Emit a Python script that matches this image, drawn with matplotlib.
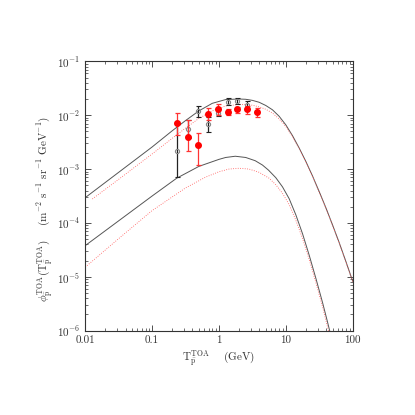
import matplotlib
matplotlib.use("Agg")
import matplotlib.pyplot as plt
import numpy as np
from matplotlib.ticker import LogLocator, FixedLocator, NullFormatter

plt.rcParams['font.family'] = 'serif'
plt.rcParams['font.serif'] = ['cmr10', 'DejaVu Serif']
plt.rcParams['mathtext.fontset'] = 'cm'
plt.rcParams['axes.formatter.use_mathtext'] = True

# ---- model curves as log10 values ----
upper_black_log_x = [-2.0, -1.5, -1.0, -0.7, -0.5, -0.3, -0.1, 0.1, 0.3, 0.4, 0.5, 0.6, 0.7, 0.8, 0.9, 1.0, 1.1, 1.2, 1.3, 1.4, 1.5, 1.6, 1.7, 1.8, 1.9, 2.0]
upper_black_log_y = [-3.53, -3.06, -2.59, -2.29, -2.10, -1.92, -1.78, -1.71, -1.70, -1.705, -1.725, -1.76, -1.82, -1.90, -2.02, -2.18, -2.38, -2.61, -2.86, -3.13, -3.42, -3.72, -4.04, -4.37, -4.72, -5.08]

upper_red_log_x = [-1.894, -1.5, -1.0, -0.7, -0.5, -0.3, -0.1, 0.1, 0.3, 0.4, 0.5, 0.6, 0.7, 0.8, 0.9, 1.0, 1.1, 1.2, 1.3, 1.4, 1.5, 1.6, 1.7, 1.8, 1.9, 2.0]
upper_red_log_y = [-3.555, -3.19, -2.72, -2.43, -2.24, -2.06, -1.92, -1.83, -1.80, -1.80, -1.815, -1.845, -1.89, -1.96, -2.07, -2.21, -2.40, -2.62, -2.87, -3.14, -3.43, -3.73, -4.05, -4.38, -4.73, -5.09]

lower_black_log_x = [-2.0, -1.5, -1.0, -0.633, -0.3, 0.0, 0.1, 0.244, 0.4, 0.542, 0.65, 0.741, 0.85, 0.95, 1.05, 1.15, 1.25, 1.35, 1.45, 1.55, 1.62, 1.67]
lower_black_log_y = [-4.42, -3.96, -3.50, -3.17, -2.95, -2.82, -2.785, -2.762, -2.785, -2.845, -2.925, -3.02, -3.16, -3.33, -3.55, -3.85, -4.20, -4.60, -5.03, -5.48, -5.82, -6.07]

lower_red_log_x = [-2.0, -1.5, -1.0, -0.5, -0.2, 0.0, 0.15, 0.3, 0.45, 0.6, 0.75, 0.85, 0.95, 1.05, 1.15, 1.25, 1.35, 1.45, 1.55, 1.62, 1.65]
lower_red_log_y = [-4.82, -4.29, -3.77, -3.35, -3.15, -3.05, -3.00, -2.985, -3.00, -3.06, -3.17, -3.29, -3.45, -3.66, -3.95, -4.29, -4.68, -5.11, -5.56, -5.91, -6.07]

# ---- data points ----
red_x = [0.233, 0.348, 0.492, 0.686, 0.966, 1.35, 1.88, 2.65, 3.69]
red_y = [7.3e-3, 3.9e-3, 2.84e-3, 1.06e-2, 1.29e-2, 1.17e-2, 1.29e-2, 1.29e-2, 1.15e-2]
red_hi = [1.12e-2, 8.1e-3, 4.6e-3, 1.35e-2, 1.59e-2, 1.31e-2, 1.42e-2, 1.46e-2, 1.37e-2]
red_lo = [4.3e-3, 2.17e-3, 1.17e-3, 8.1e-3, 1.0e-2, 1.01e-2, 1.10e-2, 1.07e-2, 9.2e-3]

blk_x = [0.233, 0.348, 0.492, 0.686, 0.966, 1.35, 1.88, 2.65]
blk_y = [2.2e-3, 5.5e-3, 1.22e-2, 7.0e-3, 1.12e-2, 1.76e-2, 1.84e-2, 1.57e-2]
blk_hi = [7.0e-3, 8.3e-3, 1.51e-2, 9.3e-3, 1.3e-2, 2.06e-2, 2.09e-2, 1.86e-2]
blk_lo = [7.0e-4, 3.7e-3, 9.4e-3, 4.9e-3, 9.6e-3, 1.55e-2, 1.59e-2, 1.33e-2]

xticks = [0.01, 0.1, 1, 10, 100]
xticklabels = ['0.01', '0.1', '1', '10', '100']
yticks = [1e-6, 1e-5, 1e-4, 1e-3, 1e-2, 1e-1]
yticklabels = [r'$10^{-6}$', r'$10^{-5}$', r'$10^{-4}$', r'$10^{-3}$', r'$10^{-2}$', r'$10^{-1}$']

fig = plt.figure(figsize=(4.15, 4.15), dpi=100)
ax = fig.add_axes([0.2055, 0.2031, 0.6443, 0.6492])
ax.set_xscale('log')
ax.set_yscale('log')
ax.set_xlim(0.01, 100)
ax.set_ylim(1e-6, 1e-1)

def pw(v):
    return np.power(10.0, np.array(v))

ax.plot(pw(upper_black_log_x), pw(upper_black_log_y), color='#555555', lw=0.7)
ax.plot(pw(lower_black_log_x), pw(lower_black_log_y), color='#555555', lw=0.7)
ax.plot(pw(upper_red_log_x), pw(upper_red_log_y), color='#ff5555', lw=0.6, ls=(0, (1, 1.8)))
ax.plot(pw(lower_red_log_x), pw(lower_red_log_y), color='#ff5555', lw=0.6, ls=(0, (1, 1.8)))

by = np.array(blk_y)
ax.errorbar(blk_x, blk_y, yerr=[by - np.array(blk_lo), np.array(blk_hi) - by],
            fmt='o', ms=3, mfc='none', mec='#888888', mew=0.8,
            ecolor='#222222', elinewidth=0.9, capsize=1.8, capthick=0.9, zorder=3)
ry = np.array(red_y)
ax.errorbar(red_x, red_y, yerr=[ry - np.array(red_lo), np.array(red_hi) - ry],
            fmt='o', ms=4, mfc='red', mec='red',
            ecolor='#ff3333', elinewidth=0.9, capsize=1.8, capthick=0.9, zorder=4)

ax.xaxis.set_major_locator(FixedLocator(xticks))
ax.set_xticklabels(xticklabels)
ax.yaxis.set_major_locator(FixedLocator(yticks))
ax.set_yticklabels(yticklabels)
ax.xaxis.set_minor_locator(LogLocator(base=10, subs=np.arange(2, 10), numticks=20))
ax.yaxis.set_minor_locator(LogLocator(base=10, subs=np.arange(2, 10), numticks=20))
ax.xaxis.set_minor_formatter(NullFormatter())
ax.yaxis.set_minor_formatter(NullFormatter())

ax.tick_params(which='both', direction='in', top=True, right=True, colors='#333333', labelsize=8)
ax.tick_params(which='major', length=4, width=0.6)
ax.tick_params(which='minor', length=2.2, width=0.5)
for s in ax.spines.values():
    s.set_linewidth(0.8)
    s.set_color('#333333')

ax.set_xlabel(r'$\mathrm{T}^{\mathrm{TOA}}_{\bar{\mathrm{p}}}$    (GeV)', fontsize=8, color='#333333', labelpad=3)
ax.set_ylabel(r'$\phi^{\mathrm{TOA}}_{\bar{\mathrm{p}}}(\mathrm{T}^{\mathrm{TOA}}_{\bar{\mathrm{p}}})$    (m$^{-2}$ s$^{-1}$ sr$^{-1}$ GeV$^{-1}$)',
              fontsize=8, color='#333333')
ax.yaxis.set_label_coords(-0.11, 0.45)

fig.savefig('out.png', dpi=100)
